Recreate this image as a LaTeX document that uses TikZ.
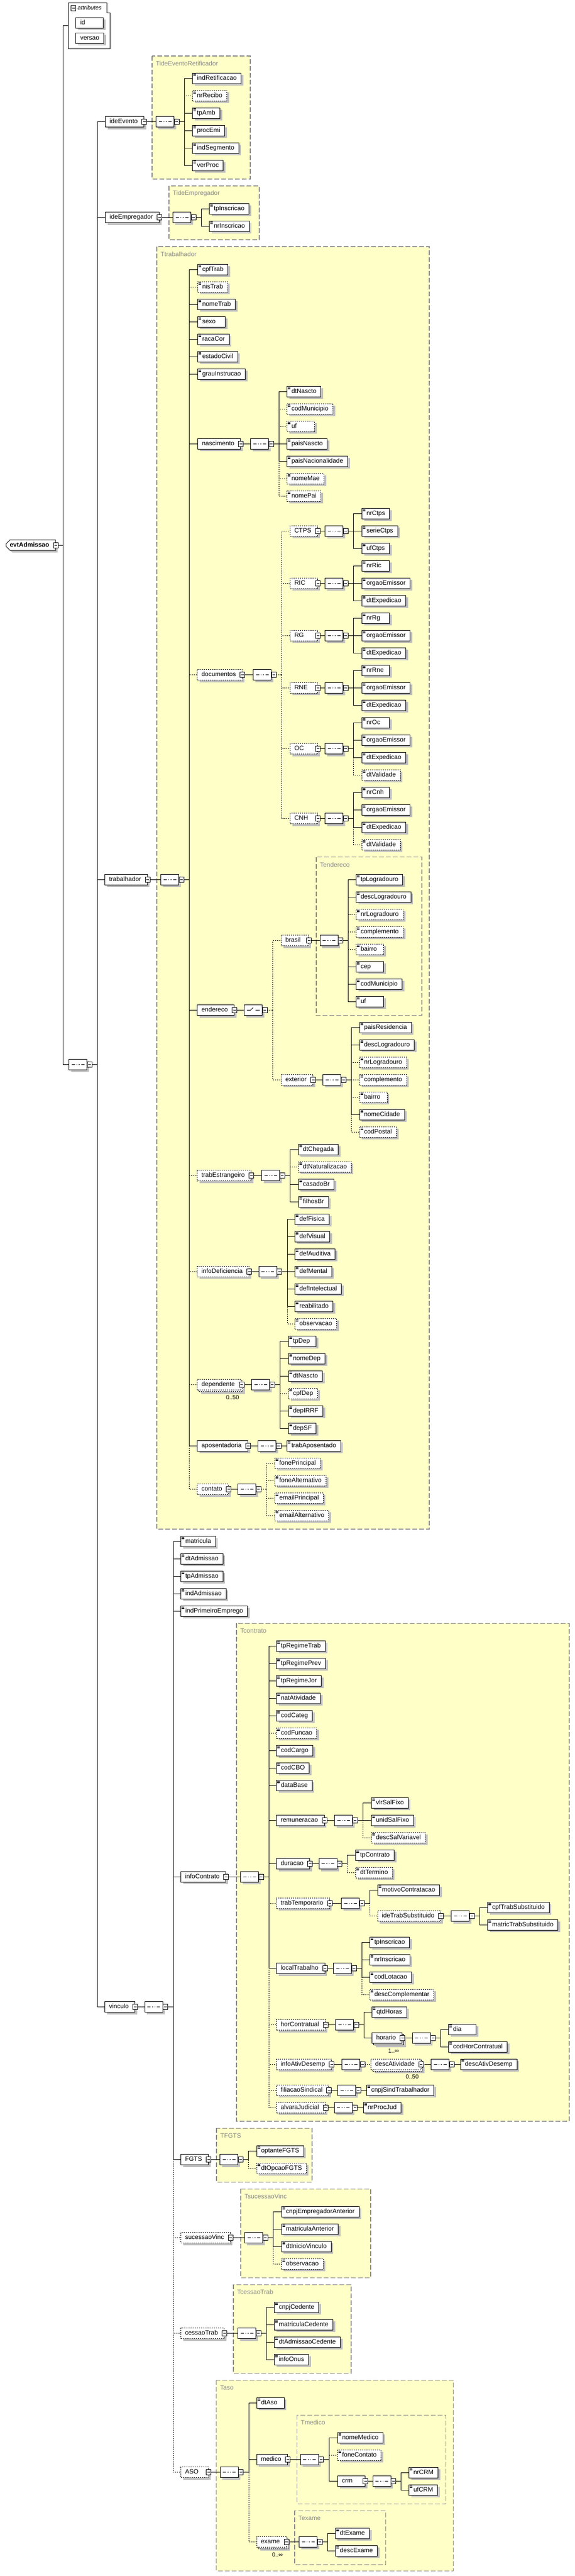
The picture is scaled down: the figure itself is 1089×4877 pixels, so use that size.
\documentclass[tikz,border=0pt]{standalone}
\usepackage{fontspec}
\setmainfont{Liberation Sans}
\usetikzlibrary{shapes.misc}
\usetikzlibrary{shadows}
\pgfdeclarelayer{back}
\pgfdeclarelayer{wires}
\pgfsetlayers{back,wires,main}
\definecolor{typefill}{HTML}{FFFFC8}
\definecolor{typeline}{HTML}{8A8A8A}
\definecolor{shade}{HTML}{C0C0C0}
\newcommand{\elfont}{\fontsize{12}{14}\selectfont}
\newcommand{\padtext}[2]{\setbox0\hbox{#2}\ifdim\wd0<#1\hbox to #1{#2\hfil}\else\box0\fi}
\newcommand{\elleaf}[4][]{\node[leaf,#1] (#2) at (#3) {\padtext{35pt}{#4}};}
\newcommand{\elcpx}[4][]{\node[cpx,#1] (#2) at (#3) {\padtext{32pt}{#4}\hspace*{4pt}};
  \node[minus] (#2-x) at (#2.east) {};}
\newcommand{\elseq}[2]{\node[seqc] (#1) at (#2) {};
  \node[minus] (#1-x) at ([xshift=4.5pt]#1.east) {};
  \coordinate (#1-j) at ([xshift=10pt]#1-x.east);}
\newcommand{\elchoice}[2]{\node[choicec] (#1) at (#2) {};
  \node[minus] (#1-x) at ([xshift=4.5pt]#1.east) {};
  \coordinate (#1-j) at ([xshift=10pt]#1-x.east);}
\newcommand{\eltie}[3][]{\draw[wire,#1] (#2-x.east) -- (#3.west);}
\newcommand{\elstem}[2][]{\draw[wire,#1] (#2-x.east) -- (#2-j);}
\newcommand{\elkid}[3][]{\draw[wire,#1] (#2-j) |- (#3.west);}
\newcommand{\typebox}[4]{\begin{pgfonlayer}{back}
  \draw[tbox] (#2) coordinate (#1-a) rectangle (#3);
  \node[tlabel] (#1) at ([xshift=7pt,yshift=-14pt]#1-a) {#4};
  \end{pgfonlayer}}

\begin{document}
\begin{tikzpicture}[x=1pt, y=-1pt,
  shd/.style={drop shadow={shadow xshift=4pt, shadow yshift=-4pt, fill=shade, opacity=1}},
  elbase/.style={draw, line width=1pt, fill=white, anchor=west, font=\elfont,
    minimum height=20pt, inner xsep=8.5pt, inner ysep=0pt, text height=9pt, text depth=3pt},
  leaf/.style={elbase, shd, path picture={
    \draw[line width=0.7pt, solid] ([shift={(1.5pt,-1.8pt)}]path picture bounding box.north west) -- ++(5pt,0pt)
      ([shift={(1.5pt,-3.6pt)}]path picture bounding box.north west) -- ++(5pt,0pt)
      ([shift={(1.5pt,-5.4pt)}]path picture bounding box.north west) -- ++(5pt,0pt);}},
  cpx/.style={elbase, shd, inner xsep=8pt},
  opt/.style={dash pattern=on 2pt off 2pt},
  rep/.style={drop shadow={shadow xshift=7pt, shadow yshift=-7pt, fill=shade, opacity=1},
    copy shadow={shadow xshift=3pt, shadow yshift=-3pt, fill=white, draw=black}},
  minus/.style={draw, line width=0.8pt, fill=white, minimum width=9pt, minimum height=10pt, inner sep=0pt,
    path picture={\draw[line width=0.8pt, solid] ([xshift=-2.5pt]path picture bounding box.center)
      -- ([xshift=2.5pt]path picture bounding box.center);}},
  compbase/.style={chamfered rectangle, chamfered rectangle xsep=5pt, draw, line width=1pt, fill=white,
    anchor=west, minimum width=34pt, minimum height=20pt, inner sep=0pt, shd},
  seqc/.style={compbase, path picture={
    \draw[line width=1pt] ([xshift=-12pt]path picture bounding box.center) -- ([xshift=12pt]path picture bounding box.center);
    \fill ([xshift=-6pt,yshift=-1.5pt]path picture bounding box.center) rectangle ++(3pt,3pt);
    \fill ([xshift=-1.5pt,yshift=-1.5pt]path picture bounding box.center) rectangle ++(3pt,3pt);
    \fill ([xshift=3pt,yshift=-1.5pt]path picture bounding box.center) rectangle ++(3pt,3pt);}},
  choicec/.style={compbase, path picture={
    \draw[line width=1pt] ([xshift=-12pt]path picture bounding box.center) -- ([xshift=-5pt]path picture bounding box.center)
      -- ([xshift=0pt,yshift=5pt]path picture bounding box.center);
    \draw[line width=1pt] ([xshift=4pt]path picture bounding box.center) -- ([xshift=12pt]path picture bounding box.center);
    \fill ([xshift=0.5pt,yshift=3pt]path picture bounding box.center) rectangle ++(2.5pt,2.5pt);
    \fill ([xshift=0.5pt,yshift=-1.2pt]path picture bounding box.center) rectangle ++(2.5pt,2.5pt);
    \fill ([xshift=0.5pt,yshift=-5.5pt]path picture bounding box.center) rectangle ++(2.5pt,2.5pt);}},
  rootel/.style={chamfered rectangle, chamfered rectangle corners={north west,south west},
    chamfered rectangle xsep=4pt, draw, line width=1pt, fill=white, anchor=west,
    font=\elfont\bfseries, minimum height=20pt, minimum width=89pt, inner xsep=3pt, inner ysep=0pt,
    text height=9pt, text depth=3pt, shd},
  mult/.style={font=\fontsize{11}{13}\selectfont, inner sep=0pt},
  wire/.style={line width=1pt},
  tbox/.style={fill=typefill, draw=typeline, line width=1.3pt, dash pattern=on 9pt off 4pt},
  tlabel/.style={anchor=west, inner sep=0pt, text=typeline, font=\elfont}]

\useasboundingbox (0,0) rectangle (1089,4877);
\begin{pgfonlayer}{back}
\fill[white] (0,0) rectangle (1089,4877);
\end{pgfonlayer}

% complex types
\typebox{tIdeEv}{288,106}{474,339}{TideEventoRetificador}
\typebox{tIdeEmp}{320,352}{491,454}{TideEmpregador}
\typebox{tTrab}{297,467}{813,2895}{Ttrabalhador}
\typebox{tEnd}{599,1622.7}{799,1922.3}{Tendereco}
\typebox{tCont}{448,3073.3}{1078,4016}{Tcontrato}
\typebox{tFgts}{410,4029.3}{591,4131.3}{TFGTS}
\typebox{tSuc}{456,4144.3}{702,4312.3}{TsucessaoVinc}
\typebox{tCes}{442,4325.3}{665,4493.3}{TcessaoTrab}
\typebox{tAso}{409.7,4506.3}{858.3,4867.3}{Taso}
\typebox{tMed}{562.5,4572.3}{844.4,4740.3}{Tmedico}
\typebox{tExa}{558,4753.3}{730.6,4855.3}{Texame}

% root
\node[rootel] (evt) at (11,1032) {evtAdmissao\hspace*{5pt}};
\node[minus] (evt-x) at (evt.east) {};
\coordinate (evt-j) at ([xshift=9pt]evt-x.east);
\draw[line width=1pt] (129,5) -- (202,5) -- (202,24) -- (208,24) -- (208,92) -- (129,92) -- cycle;
\coordinate (attr) at (129,48.5);
\node[minus] (attr-x) at (139,15) {};
\node[anchor=west, inner sep=0pt, font=\fontsize{11}{13}\selectfont\itshape] (attr-t) at (147,15) {attributes};
\node[elbase,shd] (id) at (143,43) {\padtext{35pt}{id}};
\node[elbase,shd] (versao) at (143,72) {\padtext{35pt}{versao}};
\elseq{root-s}{130,2015}

% ideEvento
\elcpx{ideEvento}{199,230.5}{ideEvento}
\elseq{ideEvento-s}{295,230.5}
\elleaf{indRetificacao}{364,148}{indRetificacao}
\elleaf[opt]{nrRecibo}{364,181}{nrRecibo}
\elleaf{tpAmb}{364,214}{tpAmb}
\elleaf{procEmi}{364,247}{procEmi}
\elleaf{indSegmento}{364,280}{indSegmento}
\elleaf{verProc}{364,313}{verProc}

% ideEmpregador
\elcpx{ideEmp}{199,411.5}{ideEmpregador}
\elseq{ideEmp-s}{327,411.5}
\elleaf{emp-tp}{396,395}{tpInscricao}
\elleaf{emp-nr}{396,428}{nrInscricao}

% trabalhador
\elcpx{trab}{198,1665}{trabalhador}
\elseq{trab-s}{304,1665}
\elleaf{cpfTrab}{374,510.3}{cpfTrab}
\elleaf[opt]{nisTrab}{374,543.3}{nisTrab}
\elleaf{nomeTrab}{374,576.3}{nomeTrab}
\elleaf{sexo}{374,609.3}{sexo}
\elleaf{racaCor}{374,642.3}{racaCor}
\elleaf{estadoCivil}{374,675.3}{estadoCivil}
\elleaf{grauInstrucao}{374,708.3}{grauInstrucao}

\elcpx{nasc}{374,840.3}{nascimento}
\elseq{nasc-s}{474,840.3}
\elleaf{dtNascto}{543,741.3}{dtNascto}
\elleaf[opt]{nasc-mun}{543,774.3}{codMunicipio}
\elleaf[opt]{nasc-uf}{543,807.3}{uf}
\elleaf{paisNascto}{543,840.3}{paisNascto}
\elleaf{paisNac}{543,873.3}{paisNacionalidade}
\elleaf[opt]{nomeMae}{543,906.3}{nomeMae}
\elleaf[opt]{nomePai}{543,939.3}{nomePai}

\elcpx[opt]{docs}{373,1277.5}{documentos}
\elseq{docs-s}{479,1277.5}
\elcpx[opt]{ctps}{549,1005.3}{CTPS}
\elseq{ctps-s}{615,1005.3}
\elleaf{nrCtps}{685,972.3}{nrCtps}
\elleaf{serieCtps}{685,1005.3}{serieCtps}
\elleaf{ufCtps}{685,1038.3}{ufCtps}
\elcpx[opt]{ric}{549,1104.3}{RIC}
\elseq{ric-s}{615,1104.3}
\elleaf{nrRic}{685,1071.3}{nrRic}
\elleaf{ric-org}{685,1104.3}{orgaoEmissor}
\elleaf{ric-dt}{685,1137.3}{dtExpedicao}
\elcpx[opt]{rg}{549,1203.3}{RG}
\elseq{rg-s}{615,1203.3}
\elleaf{nrRg}{685,1170.3}{nrRg}
\elleaf{rg-org}{685,1203.3}{orgaoEmissor}
\elleaf{rg-dt}{685,1236.3}{dtExpedicao}
\elcpx[opt]{rne}{549,1302.3}{RNE}
\elseq{rne-s}{615,1302.3}
\elleaf{nrRne}{685,1269.3}{nrRne}
\elleaf{rne-org}{685,1302.3}{orgaoEmissor}
\elleaf{rne-dt}{685,1335.3}{dtExpedicao}
\elcpx[opt]{oc}{549,1417.8}{OC}
\elseq{oc-s}{615,1417.8}
\elleaf{nrOc}{685,1368.3}{nrOc}
\elleaf{oc-org}{685,1401.3}{orgaoEmissor}
\elleaf{oc-dt}{685,1434.3}{dtExpedicao}
\elleaf[opt]{oc-val}{685,1467.3}{dtValidade}
\elcpx[opt]{cnh}{549,1549.8}{CNH}
\elseq{cnh-s}{615,1549.8}
\elleaf{nrCnh}{685,1500.3}{nrCnh}
\elleaf{cnh-org}{685,1533.3}{orgaoEmissor}
\elleaf{cnh-dt}{685,1566.3}{dtExpedicao}
\elleaf[opt]{cnh-val}{685,1599.3}{dtValidade}

\elcpx{ender}{373,1912.5}{endereco}
\elchoice{ender-c}{462,1912.5}
\elcpx[opt]{brasil}{532,1780.8}{brasil}
\elseq{brasil-s}{605.5,1780.8}
\elleaf{br-tp}{674,1665.3}{tpLogradouro}
\elleaf{br-desc}{674,1698.3}{descLogradouro}
\elleaf[opt]{br-nr}{674,1731.3}{nrLogradouro}
\elleaf[opt]{br-compl}{674,1764.3}{complemento}
\elleaf[opt]{br-bairro}{674,1797.3}{bairro}
\elleaf{br-cep}{674,1830.3}{cep}
\elleaf{br-mun}{674,1863.3}{codMunicipio}
\elleaf{br-uf}{674,1896.3}{uf}
\elcpx[opt]{ext}{532,2044.3}{exterior}
\elseq{ext-s}{611,2044.3}
\elleaf{ex-pais}{680.5,1945.3}{paisResidencia}
\elleaf{ex-desc}{680.5,1978.3}{descLogradouro}
\elleaf[opt]{ex-nr}{680.5,2011.3}{nrLogradouro}
\elleaf[opt]{ex-compl}{680.5,2044.3}{complemento}
\elleaf[opt]{ex-bairro}{680.5,2077.3}{bairro}
\elleaf{ex-cid}{680.5,2110.3}{nomeCidade}
\elleaf[opt]{ex-cep}{680.5,2143.3}{codPostal}

\elcpx[opt]{estr}{373,2225.8}{trabEstrangeiro}
\elseq{estr-s}{495,2225.8}
\elleaf{dtChegada}{564.6,2176.3}{dtChegada}
\elleaf[opt]{dtNatur}{564.6,2209.3}{dtNaturalizacao}
\elleaf{casadoBr}{564.6,2242.3}{casadoBr}
\elleaf{filhosBr}{564.6,2275.3}{filhosBr}

\elcpx[opt]{defic}{373,2407.3}{infoDeficiencia}
\elseq{defic-s}{489.6,2407.3}
\elleaf{defFisica}{558,2308.3}{defFisica}
\elleaf{defVisual}{558,2341.3}{defVisual}
\elleaf{defAuditiva}{558,2374.3}{defAuditiva}
\elleaf{defMental}{558,2407.3}{defMental}
\elleaf{defIntelectual}{558,2440.3}{defIntelectual}
\elleaf{reabilitado}{558,2473.3}{reabilitado}
\elleaf[opt]{def-obs}{558,2506.3}{observacao}

\elcpx[opt,rep]{dep}{373,2621.8}{dependente}
\node[mult] (dep-n) at ([xshift=-17pt,yshift=-13.5pt]dep.south east) {0..50};
\elseq{dep-s}{476,2621.8}
\elleaf{tpDep}{546,2539.3}{tpDep}
\elleaf{nomeDep}{546,2572.3}{nomeDep}
\elleaf{dep-nasc}{546,2605.3}{dtNascto}
\elleaf[opt]{cpfDep}{546,2638.3}{cpfDep}
\elleaf{depIRRF}{546,2671.3}{depIRRF}
\elleaf{depSF}{546,2704.3}{depSF}

\elcpx{apos}{373,2737.3}{aposentadoria}
\elseq{apos-s}{488,2737.3}
\elleaf{trabApos}{543,2737.3}{trabAposentado}

\elcpx[opt]{cont}{373,2819.8}{contato}
\elseq{cont-s}{450,2819.8}
\elleaf[opt]{fonePrincipal}{520,2770.3}{fonePrincipal}
\elleaf[opt]{foneAlternativo}{520,2803.3}{foneAlternativo}
\elleaf[opt]{emailPrincipal}{520,2836.3}{emailPrincipal}
\elleaf[opt]{emailAlternativo}{520,2869.3}{emailAlternativo}

% vinculo
\elcpx{vinc}{198,3799.5}{vinculo}
\elseq{vinc-s}{273.6,3799.5}
\elleaf{matricula}{342,2918.3}{matricula}
\elleaf{dtAdmissao}{342,2951.3}{dtAdmissao}
\elleaf{tpAdmissao}{342,2984.3}{tpAdmissao}
\elleaf{indAdmissao}{342,3017.3}{indAdmissao}
\elleaf{indPrimeiroEmprego}{342,3050.3}{indPrimeiroEmprego}

\elcpx{infoC}{342,3553.3}{infoContrato}
\elseq{infoC-s}{455,3553.3}
\elleaf{tpRegimeTrab}{523,3116.3}{tpRegimeTrab}
\elleaf{tpRegimePrev}{523,3149.3}{tpRegimePrev}
\elleaf{tpRegimeJor}{523,3182.3}{tpRegimeJor}
\elleaf{natAtividade}{523,3215.3}{natAtividade}
\elleaf{codCateg}{523,3248.3}{codCateg}
\elleaf[opt]{codFuncao}{523,3281.3}{codFuncao}
\elleaf{codCargo}{523,3314.3}{codCargo}
\elleaf{codCBO}{523,3347.3}{codCBO}
\elleaf{dataBase}{523,3380.3}{dataBase}

\elcpx{remun}{523,3446.3}{remuneracao}
\elseq{remun-s}{633,3446.3}
\elleaf{vlrSalFixo}{703,3413.3}{vlrSalFixo}
\elleaf{unidSalFixo}{703,3446.3}{unidSalFixo}
\elleaf[opt]{descSalVariavel}{703,3479.3}{descSalVariavel}

\elcpx{dur}{523,3528.8}{duracao}
\elseq{dur-s}{603.5,3528.8}
\elleaf{tpContrato}{673,3512.3}{tpContrato}
\elleaf[opt]{dtTermino}{673,3545.3}{dtTermino}

\elcpx[opt]{temp}{523,3603}{trabTemporario}
\elseq{temp-s}{646,3603}
\elleaf{motivoContr}{714.6,3578.3}{motivoContratacao}
\elcpx[opt]{subst}{714.6,3627.8}{ideTrabSubstituido}
\elseq{subst-s}{854,3627.8}
\elleaf{cpfSubst}{923,3611.3}{cpfTrabSubstituido}
\elleaf{matricSubst}{923,3644.3}{matricTrabSubstituido}

\elcpx{local}{523,3726.8}{localTrabalho}
\elseq{local-s}{631,3726.8}
\elleaf{lt-tp}{700,3677.3}{tpInscricao}
\elleaf{lt-nr}{700,3710.3}{nrInscricao}
\elleaf{codLotacao}{700,3743.3}{codLotacao}
\elleaf[opt]{descCompl}{700,3776.3}{descComplementar}

\elcpx[opt]{hor}{523,3833.8}{horContratual}
\elseq{hor-s}{635,3833.8}
\elleaf{qtdHoras}{704,3809.3}{qtdHoras}
\elcpx[rep]{horario}{704,3858.5}{horario}
\node[mult] (horario-n) at ([xshift=-17pt,yshift=-13.5pt]horario.south east) {1..∞};
\elseq{horario-s}{780.5,3858.5}
\elleaf{dia}{849,3842}{dia}
\elleaf{codHorContr}{849,3875}{codHorContratual}

\elcpx[opt]{ativ}{523,3908}{infoAtivDesemp}
\elseq{ativ-s}{647,3908}
\elcpx[opt,rep]{descAtiv}{702,3908}{descAtividade}
\node[mult] (descAtiv-n) at ([xshift=-17pt,yshift=-13.5pt]descAtiv.south east) {0..50};
\elseq{descAtiv-s}{816,3908}
\elleaf{descAtivDesemp}{871.5,3908}{descAtivDesemp}

\elcpx[opt]{filia}{523,3957.3}{filiacaoSindical}
\elseq{filia-s}{639,3957.3}
\elleaf{cnpjSind}{694,3957.3}{cnpjSindTrabalhador}

\elcpx[opt]{alvara}{523,3990.3}{alvaraJudicial}
\elseq{alvara-s}{632.6,3990.3}
\elleaf{nrProcJud}{687.5,3990.3}{nrProcJud}

\elcpx{fgts}{342,4088.8}{FGTS}
\elseq{fgts-s}{416,4088.8}
\elleaf{optanteFGTS}{485.5,4072.3}{optanteFGTS}
\elleaf[opt]{dtOpcaoFGTS}{485.5,4105.3}{dtOpcaoFGTS}

\elcpx[opt]{suc}{342,4236.8}{sucessaoVinc}
\elseq{suc-s}{463,4236.8}
\elleaf{cnpjEmpAnt}{532.6,4187.3}{cnpjEmpregadorAnterior}
\elleaf{matricAnt}{532.6,4220.3}{matriculaAnterior}
\elleaf{dtInicioVinculo}{532.6,4253.3}{dtInicioVinculo}
\elleaf[opt]{suc-obs}{532.6,4286.3}{observacao}

\elcpx[opt]{ces}{342,4417.8}{cessaoTrab}
\elseq{ces-s}{450,4417.8}
\elleaf{cnpjCedente}{519,4368.3}{cnpjCedente}
\elleaf{matricCedente}{519,4401.3}{matriculaCedente}
\elleaf{dtAdmCedente}{519,4434.3}{dtAdmissaoCedente}
\elleaf{infoOnus}{519,4467.3}{infoOnus}

\elcpx[opt]{aso}{342,4680.8}{ASO}
\elseq{aso-s}{416.7,4680.8}
\elleaf{dtAso}{485.5,4549.3}{dtAso}
\elcpx{med}{485.5,4656.3}{medico}
\elseq{med-s}{568.75,4656.3}
\elleaf{nomeMedico}{639,4615.3}{nomeMedico}
\elleaf[opt]{foneContato}{639,4648.3}{foneContato}
\elcpx{crm}{639,4697.3}{crm}
\elseq{crm-s}{705.5,4697.3}
\elleaf{nrCRM}{774,4681.3}{nrCRM}
\elleaf{ufCRM}{774,4714.3}{ufCRM}
\elcpx[opt,rep]{exame}{485.5,4812.3}{exame}
\node[mult] (exame-n) at ([xshift=-17pt,yshift=-13.5pt]exame.south east) {0..∞};
\elseq{exame-s}{566,4812.3}
\elleaf{dtExame}{634.7,4796.3}{dtExame}
\elleaf{descExame}{634.7,4829.3}{descExame}

% connectors
\begin{pgfonlayer}{wires}
\draw[wire] (evt-x.east) -- (evt-j);
\draw[wire] (evt-j) |- (attr);
\elkid{evt}{root-s}
\elstem{root-s}
\elkid{root-s}{ideEvento}
\elkid{root-s}{ideEmp}
\elkid{root-s}{trab}
\elkid{root-s}{vinc}

\eltie{ideEvento}{ideEvento-s}
\elstem{ideEvento-s}
\elkid[opt]{ideEvento-s}{nrRecibo}
\elkid{ideEvento-s}{indRetificacao}
\elkid{ideEvento-s}{tpAmb}
\elkid{ideEvento-s}{procEmi}
\elkid{ideEvento-s}{indSegmento}
\elkid{ideEvento-s}{verProc}

\eltie{ideEmp}{ideEmp-s}
\elstem{ideEmp-s}
\elkid{ideEmp-s}{emp-tp}
\elkid{ideEmp-s}{emp-nr}

\eltie{trab}{trab-s}
\elstem{trab-s}
\elkid[opt]{trab-s}{nisTrab}
\elkid[opt]{trab-s}{docs}
\elkid[opt]{trab-s}{estr}
\elkid[opt]{trab-s}{defic}
\elkid[opt]{trab-s}{dep}
\elkid[opt]{trab-s}{cont}
\elkid{trab-s}{cpfTrab}
\elkid{trab-s}{nomeTrab}
\elkid{trab-s}{sexo}
\elkid{trab-s}{racaCor}
\elkid{trab-s}{estadoCivil}
\elkid{trab-s}{grauInstrucao}
\elkid{trab-s}{nasc}
\elkid{trab-s}{ender}
\elkid{trab-s}{apos}

\eltie{nasc}{nasc-s}
\elstem{nasc-s}
\elkid[opt]{nasc-s}{nasc-mun}
\elkid[opt]{nasc-s}{nasc-uf}
\elkid[opt]{nasc-s}{nomeMae}
\elkid[opt]{nasc-s}{nomePai}
\elkid{nasc-s}{dtNascto}
\elkid{nasc-s}{paisNascto}
\elkid{nasc-s}{paisNac}

\eltie{docs}{docs-s}
\elstem[opt]{docs-s}
\elkid[opt]{docs-s}{ctps}
\elkid[opt]{docs-s}{ric}
\elkid[opt]{docs-s}{rg}
\elkid[opt]{docs-s}{rne}
\elkid[opt]{docs-s}{oc}
\elkid[opt]{docs-s}{cnh}
\eltie{ctps}{ctps-s}
\elstem{ctps-s}
\elkid{ctps-s}{nrCtps}
\elkid{ctps-s}{serieCtps}
\elkid{ctps-s}{ufCtps}
\eltie{ric}{ric-s}
\elstem{ric-s}
\elkid{ric-s}{nrRic}
\elkid{ric-s}{ric-org}
\elkid{ric-s}{ric-dt}
\eltie{rg}{rg-s}
\elstem{rg-s}
\elkid{rg-s}{nrRg}
\elkid{rg-s}{rg-org}
\elkid{rg-s}{rg-dt}
\eltie{rne}{rne-s}
\elstem{rne-s}
\elkid{rne-s}{nrRne}
\elkid{rne-s}{rne-org}
\elkid{rne-s}{rne-dt}
\eltie{oc}{oc-s}
\elstem{oc-s}
\elkid[opt]{oc-s}{oc-val}
\elkid{oc-s}{nrOc}
\elkid{oc-s}{oc-org}
\elkid{oc-s}{oc-dt}
\eltie{cnh}{cnh-s}
\elstem{cnh-s}
\elkid[opt]{cnh-s}{cnh-val}
\elkid{cnh-s}{nrCnh}
\elkid{cnh-s}{cnh-org}
\elkid{cnh-s}{cnh-dt}

\eltie{ender}{ender-c}
\elstem[opt]{ender-c}
\elkid[opt]{ender-c}{brasil}
\elkid[opt]{ender-c}{ext}
\eltie{brasil}{brasil-s}
\elstem{brasil-s}
\elkid[opt]{brasil-s}{br-nr}
\elkid[opt]{brasil-s}{br-compl}
\elkid[opt]{brasil-s}{br-bairro}
\elkid{brasil-s}{br-tp}
\elkid{brasil-s}{br-desc}
\elkid{brasil-s}{br-cep}
\elkid{brasil-s}{br-mun}
\elkid{brasil-s}{br-uf}
\eltie{ext}{ext-s}
\elstem{ext-s}
\elkid[opt]{ext-s}{ex-nr}
\elkid[opt]{ext-s}{ex-compl}
\elkid[opt]{ext-s}{ex-bairro}
\elkid[opt]{ext-s}{ex-cep}
\elkid{ext-s}{ex-pais}
\elkid{ext-s}{ex-desc}
\elkid{ext-s}{ex-cid}

\eltie{estr}{estr-s}
\elstem{estr-s}
\elkid[opt]{estr-s}{dtNatur}
\elkid{estr-s}{dtChegada}
\elkid{estr-s}{casadoBr}
\elkid{estr-s}{filhosBr}

\eltie{defic}{defic-s}
\elstem{defic-s}
\elkid[opt]{defic-s}{def-obs}
\elkid{defic-s}{defFisica}
\elkid{defic-s}{defVisual}
\elkid{defic-s}{defAuditiva}
\elkid{defic-s}{defMental}
\elkid{defic-s}{defIntelectual}
\elkid{defic-s}{reabilitado}

\eltie{dep}{dep-s}
\elstem{dep-s}
\elkid[opt]{dep-s}{cpfDep}
\elkid{dep-s}{tpDep}
\elkid{dep-s}{nomeDep}
\elkid{dep-s}{dep-nasc}
\elkid{dep-s}{depIRRF}
\elkid{dep-s}{depSF}

\eltie{apos}{apos-s}
\eltie{apos-s}{trabApos}

\eltie{cont}{cont-s}
\elstem[opt]{cont-s}
\elkid[opt]{cont-s}{fonePrincipal}
\elkid[opt]{cont-s}{foneAlternativo}
\elkid[opt]{cont-s}{emailPrincipal}
\elkid[opt]{cont-s}{emailAlternativo}

\eltie{vinc}{vinc-s}
\elstem{vinc-s}
\elkid[opt]{vinc-s}{suc}
\elkid[opt]{vinc-s}{ces}
\elkid[opt]{vinc-s}{aso}
\elkid{vinc-s}{matricula}
\elkid{vinc-s}{dtAdmissao}
\elkid{vinc-s}{tpAdmissao}
\elkid{vinc-s}{indAdmissao}
\elkid{vinc-s}{indPrimeiroEmprego}
\elkid{vinc-s}{infoC}
\elkid{vinc-s}{fgts}

\eltie{infoC}{infoC-s}
\elstem{infoC-s}
\elkid[opt]{infoC-s}{codFuncao}
\elkid[opt]{infoC-s}{temp}
\elkid[opt]{infoC-s}{hor}
\elkid[opt]{infoC-s}{ativ}
\elkid[opt]{infoC-s}{filia}
\elkid[opt]{infoC-s}{alvara}
\elkid{infoC-s}{tpRegimeTrab}
\elkid{infoC-s}{tpRegimePrev}
\elkid{infoC-s}{tpRegimeJor}
\elkid{infoC-s}{natAtividade}
\elkid{infoC-s}{codCateg}
\elkid{infoC-s}{codCargo}
\elkid{infoC-s}{codCBO}
\elkid{infoC-s}{dataBase}
\elkid{infoC-s}{remun}
\elkid{infoC-s}{dur}
\elkid{infoC-s}{local}

\eltie{remun}{remun-s}
\elstem{remun-s}
\elkid[opt]{remun-s}{descSalVariavel}
\elkid{remun-s}{vlrSalFixo}
\elkid{remun-s}{unidSalFixo}
\eltie{dur}{dur-s}
\elstem{dur-s}
\elkid[opt]{dur-s}{dtTermino}
\elkid{dur-s}{tpContrato}
\eltie{temp}{temp-s}
\elstem{temp-s}
\elkid[opt]{temp-s}{subst}
\elkid{temp-s}{motivoContr}
\eltie{subst}{subst-s}
\elstem{subst-s}
\elkid{subst-s}{cpfSubst}
\elkid{subst-s}{matricSubst}
\eltie{local}{local-s}
\elstem{local-s}
\elkid[opt]{local-s}{descCompl}
\elkid{local-s}{lt-tp}
\elkid{local-s}{lt-nr}
\elkid{local-s}{codLotacao}
\eltie{hor}{hor-s}
\elstem{hor-s}
\elkid{hor-s}{qtdHoras}
\elkid{hor-s}{horario}
\eltie{horario}{horario-s}
\elstem{horario-s}
\elkid{horario-s}{dia}
\elkid{horario-s}{codHorContr}
\eltie{ativ}{ativ-s}
\eltie[opt]{ativ-s}{descAtiv}
\eltie{descAtiv}{descAtiv-s}
\eltie{descAtiv-s}{descAtivDesemp}
\eltie{filia}{filia-s}
\eltie{filia-s}{cnpjSind}
\eltie{alvara}{alvara-s}
\eltie{alvara-s}{nrProcJud}

\eltie{fgts}{fgts-s}
\elstem{fgts-s}
\elkid[opt]{fgts-s}{dtOpcaoFGTS}
\elkid{fgts-s}{optanteFGTS}

\eltie{suc}{suc-s}
\elstem{suc-s}
\elkid[opt]{suc-s}{suc-obs}
\elkid{suc-s}{cnpjEmpAnt}
\elkid{suc-s}{matricAnt}
\elkid{suc-s}{dtInicioVinculo}

\eltie{ces}{ces-s}
\elstem{ces-s}
\elkid{ces-s}{cnpjCedente}
\elkid{ces-s}{matricCedente}
\elkid{ces-s}{dtAdmCedente}
\elkid{ces-s}{infoOnus}

\eltie{aso}{aso-s}
\elstem{aso-s}
\elkid[opt]{aso-s}{exame}
\elkid{aso-s}{dtAso}
\elkid{aso-s}{med}
\eltie{med}{med-s}
\elstem{med-s}
\elkid[opt]{med-s}{foneContato}
\elkid{med-s}{nomeMedico}
\elkid{med-s}{crm}
\eltie{crm}{crm-s}
\elstem{crm-s}
\elkid{crm-s}{nrCRM}
\elkid{crm-s}{ufCRM}
\eltie{exame}{exame-s}
\elstem{exame-s}
\elkid{exame-s}{dtExame}
\elkid{exame-s}{descExame}
\end{pgfonlayer}
\end{tikzpicture}
\end{document}
